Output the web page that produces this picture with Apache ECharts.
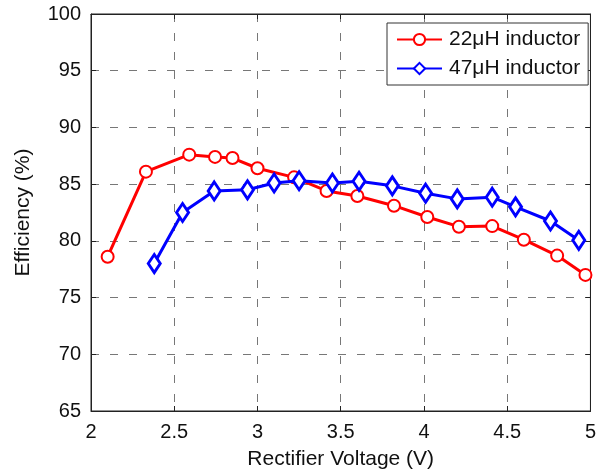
<!DOCTYPE html>
<html>
<head>
<meta charset="utf-8">
<script src="https://cdn.jsdelivr.net/npm/echarts@6/dist/echarts.min.js"></script>
<style>
html,body{margin:0;padding:0;background:#fff;}
#chart{width:599px;height:476px;}
</style>
</head>
<body>
<div id="chart"></div>
<script>
var seriesNames = ['22\u03bcH inductor', '47\u03bcH inductor'];
var voltage22 = [2.10, 2.33, 2.59, 2.745, 2.85, 3.0, 3.22, 3.415, 3.60, 3.82, 4.02, 4.21, 4.41, 4.60, 4.80, 4.97];
var eff22     = [78.6, 86.1, 87.6, 87.4, 87.3, 86.4, 85.6, 84.4, 83.95, 83.1, 82.1, 81.25, 81.3, 80.1, 78.7, 77.0];
var voltage47 = [2.38, 2.55, 2.74, 2.94, 3.10, 3.25, 3.45, 3.61, 3.81, 4.01, 4.20, 4.41, 4.55, 4.76, 4.93];
var eff47     = [78.0, 82.5, 84.4, 84.5, 85.1, 85.3, 85.1, 85.25, 84.85, 84.2, 83.7, 83.85, 83.0, 81.75, 80.05];
var xTitle = 'Rectifier Voltage (V)';
var yTitle = 'Efficiency (%)';

function pairs(xs, ys){ return xs.map(function(x,i){ return [x, ys[i]]; }); }

var FONT = 'Liberation Sans';
var chart = echarts.init(document.getElementById('chart'), null, {renderer:'canvas'});
var dashLine = {show:true, lineStyle:{color:'#777777', type:[8,11], width:1}};
chart.setOption({
  animation:false,
  backgroundColor:'#ffffff',
  textStyle:{fontFamily:FONT},
  grid:{left:91, right:3, top:14, bottom:65, show:true, borderColor:'#222', borderWidth:1, backgroundColor:'transparent'},
  legend:{
    show:true, orient:'vertical', left:387, top:23, width:180,
    backgroundColor:'#fff', borderColor:'#333', borderWidth:1,
    padding:[6,8,6,9], itemGap:8, itemWidth:45, itemHeight:14,
    textStyle:{fontFamily:FONT, fontSize:21, color:'#111', padding:[0,0,0,2]},
    data:seriesNames
  },
  xAxis:[{
    type:'value', min:2, max:5, interval:0.5, position:'bottom',
    name:xTitle, nameLocation:'middle', nameGap:38,
    nameTextStyle:{fontFamily:FONT, fontSize:21, color:'#111'},
    axisLine:{show:true, lineStyle:{color:'#222'}},
    axisTick:{show:true, inside:true, length:5, lineStyle:{color:'#222'}},
    axisLabel:{fontFamily:FONT, fontSize:20, color:'#111', margin:11},
    splitLine:dashLine
  },{
    type:'value', min:2, max:5, interval:0.5, position:'top',
    axisLine:{show:true, lineStyle:{color:'#222'}},
    axisTick:{show:true, inside:true, length:5, lineStyle:{color:'#222'}},
    axisLabel:{show:false}, splitLine:{show:false}
  }],
  yAxis:[{
    type:'value', min:65, max:100, interval:5, position:'left',
    name:yTitle, nameLocation:'middle', nameGap:57, nameRotate:90,
    nameTextStyle:{fontFamily:FONT, fontSize:21, color:'#111'},
    axisLine:{show:true, lineStyle:{color:'#222'}},
    axisTick:{show:true, inside:true, length:5, lineStyle:{color:'#222'}},
    axisLabel:{fontFamily:FONT, fontSize:20, color:'#111', margin:10},
    splitLine:dashLine
  },{
    type:'value', min:65, max:100, interval:5, position:'right',
    axisLine:{show:true, lineStyle:{color:'#222'}},
    axisTick:{show:true, inside:true, length:5, lineStyle:{color:'#222'}},
    axisLabel:{show:false}, splitLine:{show:false}
  }],
  series:[{
    name:seriesNames[0], type:'line', data:pairs(voltage22, eff22),
    color:'#ff0000',
    lineStyle:{color:'#ff0000', width:3},
    symbol:'emptyCircle', symbolSize:12,
    itemStyle:{color:'#ff0000', borderColor:'#ff0000', borderWidth:3},
    clip:false, z:3
  },{
    name:seriesNames[1], type:'line', data:pairs(voltage47, eff47),
    color:'#0000ff',
    lineStyle:{color:'#0000ff', width:3},
    symbol:'diamond', symbolSize:[12,18],
    itemStyle:{color:'#ffffff', borderColor:'#0000ff', borderWidth:3},
    clip:false, z:4
  }]
});
</script>
</body>
</html>
